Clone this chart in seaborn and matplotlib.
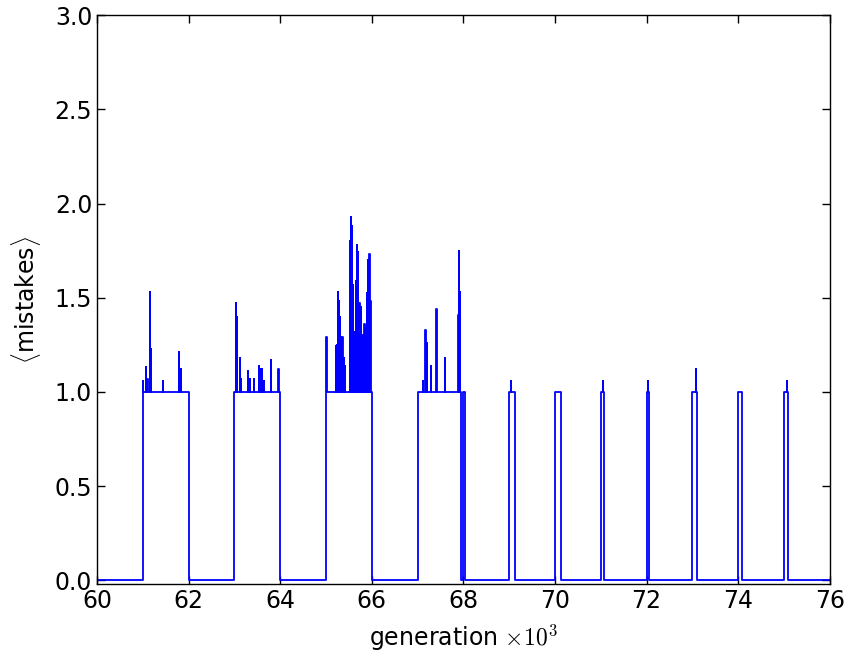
import numpy as np
import pandas as pd
import matplotlib
matplotlib.use("Agg")
import matplotlib.pyplot as plt
import seaborn as sns

# bloques donde la media de errores sube a 1 (generación x10^3)
block_starts = [61.0, 63.0, 65.0, 67.0, 68.0, 69.0, 70.0, 71.0, 72.0, 73.0, 74.0, 75.0]
block_ends = [62.0, 64.0, 66.0, 67.95, 68.03, 69.13, 70.13, 71.06, 72.06, 73.10, 74.09, 75.09]

# picos dentro de los bloques
spike_gen = [
    61.01, 61.06, 61.10, 61.15, 61.17, 61.43, 61.78, 61.83,
    63.04, 63.06, 63.12, 63.14, 63.30, 63.33, 63.42, 63.53, 63.57, 63.60, 63.64, 63.79, 63.96,
    65.01, 65.21, 65.23, 65.24, 65.26, 65.28, 65.30, 65.33, 65.35, 65.36, 65.37, 65.39, 65.41,
    65.52, 65.54, 65.57, 65.59, 65.61, 65.62, 65.65, 65.67, 65.68, 65.70, 65.72, 65.73, 65.76,
    65.78, 65.80, 65.81, 65.83, 65.84, 65.86, 65.87, 65.89, 65.90, 65.92, 65.93, 65.95, 65.97,
    67.11, 67.17, 67.20, 67.30, 67.41, 67.60, 67.89, 67.91, 67.93,
    69.04, 71.04, 72.03, 73.07, 75.06,
]
spike_val = [
    1.06, 1.13, 1.07, 1.53, 1.23, 1.06, 1.21, 1.12,
    1.47, 1.40, 1.18, 1.07, 1.11, 1.07, 1.07, 1.14, 1.12, 1.12, 1.06, 1.17, 1.12,
    1.29, 1.245, 1.25, 1.20, 1.53, 1.48, 1.40, 1.29, 1.22, 1.29, 1.15, 1.18, 1.14,
    1.80, 1.93, 1.88, 1.57, 1.32, 1.25, 1.59, 1.78, 1.30, 1.745, 1.20, 1.47, 1.45,
    1.25, 1.30, 1.24, 1.20, 1.36, 1.25, 1.34, 1.525, 1.30, 1.70, 1.35, 1.73, 1.48,
    1.06, 1.33, 1.26, 1.135, 1.44, 1.18, 1.41, 1.75, 1.53,
    1.06, 1.06, 1.06, 1.12, 1.06,
]

# serie escalonada
gx, gy = [60.0], [0.0]
for s, e in zip(block_starts, block_ends):
    gx.append(s); gy.append(1.0)
    for sg, sv in zip(spike_gen, spike_val):
        if s < sg < e:
            gx += [sg, sg + 0.004]
            gy += [sv, 1.0]
    gx.append(e); gy.append(0.0)
gx.append(76.0); gy.append(0.0)
df = pd.DataFrame({"generation": gx, "mistakes": gy})

sns.set_style("ticks")
plt.rcParams["font.family"] = ["DejaVu Sans"]
plt.rcParams["mathtext.fontset"] = "cm"
plt.rcParams["xtick.direction"] = "in"
plt.rcParams["ytick.direction"] = "in"
plt.rcParams["xtick.top"] = True
plt.rcParams["ytick.right"] = True
for k in ["text.color", "axes.labelcolor", "xtick.color", "ytick.color", "axes.edgecolor"]:
    plt.rcParams[k] = "black"

fig = plt.figure(figsize=(8.51, 6.57), dpi=100)
ax = fig.add_axes([0.114, 0.111, 0.861, 0.866])
sns.lineplot(data=df, x="generation", y="mistakes", estimator=None, sort=False,
             drawstyle="steps-post", color="b", lw=1.3, ax=ax)

ax.set_xlim(60, 76)
ax.set_ylim(-0.02, 3.0)
ax.set_xticks(np.arange(60, 77, 2))
ax.set_yticks(np.arange(0, 3.01, 0.5))
ax.set_yticklabels([f"{v:.1f}" for v in np.arange(0, 3.01, 0.5)])
ax.tick_params(labelsize=17, length=6, width=1, color="black", labelcolor="black")
for sp in ax.spines.values():
    sp.set_color("black")
    sp.set_linewidth(1.0)
ax.set_xlabel(r"generation $\times10^3$", fontsize=17, labelpad=7)
ax.set_ylabel(r"$\langle$mistakes$\rangle$", fontsize=17, labelpad=8)

fig.savefig("out.png", dpi=100)
